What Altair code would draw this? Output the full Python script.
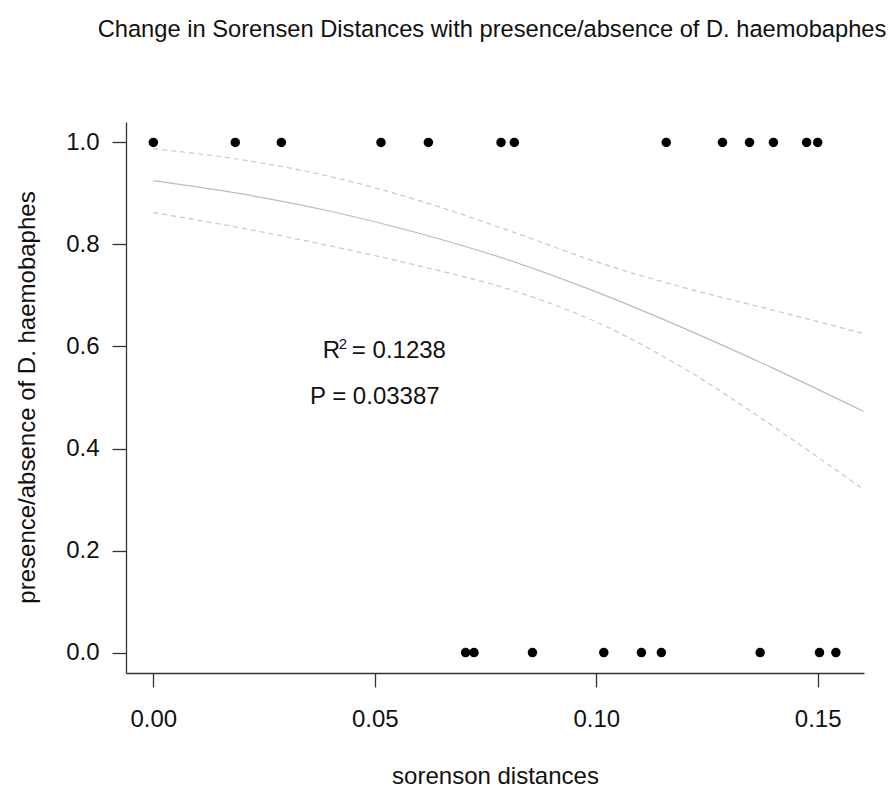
import altair as alt
import pandas as pd

# ---- data ----
present_x = [0.000, 0.0185, 0.0289, 0.0514, 0.0621, 0.0785, 0.0815,
             0.1158, 0.1285, 0.1346, 0.1400, 0.1475, 0.1500]
absent_x = [0.0705, 0.0724, 0.0856, 0.1017, 0.1102, 0.1147, 0.1370,
            0.1504, 0.1541]

curve_x = [0.00, 0.02, 0.04, 0.06, 0.08, 0.10, 0.12, 0.14, 0.1604]
fit_y = [0.925, 0.899, 0.865, 0.822, 0.770, 0.707, 0.635, 0.557, 0.4725]
upper_y = [0.9875, 0.966, 0.933, 0.886, 0.828, 0.766, 0.715, 0.671, 0.6255]
lower_y = [0.8625, 0.832, 0.797, 0.758, 0.713, 0.648, 0.556, 0.443, 0.3195]

x_ticks = [0.00, 0.05, 0.10, 0.15]
y_ticks = [0.0, 0.2, 0.4, 0.6, 0.8, 1.0]

title_text = "Change in Sorensen Distances with presence/absence of D. haemobaphes"
x_title = "sorenson distances"
y_title = "presence/absence of D. haemobaphes"

r2_value = "= 0.1238"
p_text = "P = 0.03387"
ann_x = [0.0385, 0.0500]
ann_y = [0.578, 0.488]

FONT = "Liberation Sans"

pts = pd.DataFrame({
    "x": present_x + absent_x,
    "y": [1] * len(present_x) + [0] * len(absent_x),
})
curve = pd.DataFrame({"x": curve_x, "fit": fit_y, "upper": upper_y, "lower": lower_y})

xs = alt.Scale(domain=[-0.00617, 0.16045], nice=False, zero=False)
ys = alt.Scale(domain=[-0.04, 1.04], nice=False, zero=False)

axis_common = dict(
    grid=False, domainColor="#333333", domainWidth=1.3, tickColor="#333333",
    tickWidth=1.3, tickSize=14, labelFont=FONT, labelFontSize=24,
    labelColor="#111111", titleFont=FONT, titleFontSize=24,
    titleFontWeight="normal", titleColor="#111111", labelFlush=False,
    labelOverlap=False, titleBaseline="alphabetic",
)

xaxis = alt.Axis(values=x_ticks, format=".2f", title=x_title, labelPadding=20,
                 titleY=110, **axis_common)
yaxis = alt.Axis(values=y_ticks, format=".1f", title=y_title, labelPadding=13,
                 titleX=-92, titleY=275, titleAngle=270, **axis_common)

base_pts = alt.Chart(pts).mark_circle(size=90, color="black", opacity=1).encode(
    x=alt.X("x:Q", scale=xs, axis=xaxis),
    y=alt.Y("y:Q", scale=ys, axis=yaxis),
)

fit_line = alt.Chart(curve).mark_line(color="#BBBBBB", strokeWidth=1.2,
                                      interpolate="monotone").encode(
    x=alt.X("x:Q", scale=xs), y=alt.Y("fit:Q", scale=ys))
up_line = alt.Chart(curve).mark_line(color="#C8C8C8", strokeWidth=1.2,
                                     strokeDash=[5, 4], interpolate="monotone").encode(
    x=alt.X("x:Q", scale=xs), y=alt.Y("upper:Q", scale=ys))
lo_line = alt.Chart(curve).mark_line(color="#C8C8C8", strokeWidth=1.2,
                                     strokeDash=[5, 4], interpolate="monotone").encode(
    x=alt.X("x:Q", scale=xs), y=alt.Y("lower:Q", scale=ys))

ann_r = pd.DataFrame({"x": [ann_x[0]], "y": [ann_y[0]]})
ann_p = pd.DataFrame({"x": [ann_x[1]], "y": [ann_y[1]], "t": [p_text]})

r_letter = alt.Chart(ann_r).mark_text(text="R", font=FONT, fontSize=24, align="left",
                                      baseline="alphabetic", color="#111111", dx=-1).encode(
    x=alt.X("x:Q", scale=xs), y=alt.Y("y:Q", scale=ys))
r_sup = alt.Chart(ann_r).mark_text(text="2", font=FONT, fontSize=15, align="left",
                                   baseline="alphabetic", color="#111111", dx=15, dy=-9).encode(
    x=alt.X("x:Q", scale=xs), y=alt.Y("y:Q", scale=ys))
r_val = alt.Chart(ann_r).mark_text(text=r2_value, font=FONT, fontSize=24, align="left",
                                   baseline="alphabetic", color="#111111", dx=28).encode(
    x=alt.X("x:Q", scale=xs), y=alt.Y("y:Q", scale=ys))
p_lab = alt.Chart(ann_p).mark_text(font=FONT, fontSize=24, align="center",
                                   baseline="alphabetic", color="#111111").encode(
    x=alt.X("x:Q", scale=xs), y=alt.Y("y:Q", scale=ys), text="t:N")

chart = alt.layer(fit_line, up_line, lo_line, base_pts, r_letter, r_sup, r_val, p_lab).properties(
    width=738, height=551,
    title=alt.TitleParams(title_text, font=FONT, fontSize=23.7, fontWeight="normal",
                          color="#111111", anchor="middle", baseline="alphabetic",
                          offset=61, dx=-3),
    autosize=alt.AutoSizeParams(type="none"),
    padding={"left": 126, "top": 122, "right": 26, "bottom": 116},
    background="white",
).configure_view(strokeWidth=0, stroke="transparent")

chart.save("out.html", embed_options={"renderer": "svg", "actions": False})
